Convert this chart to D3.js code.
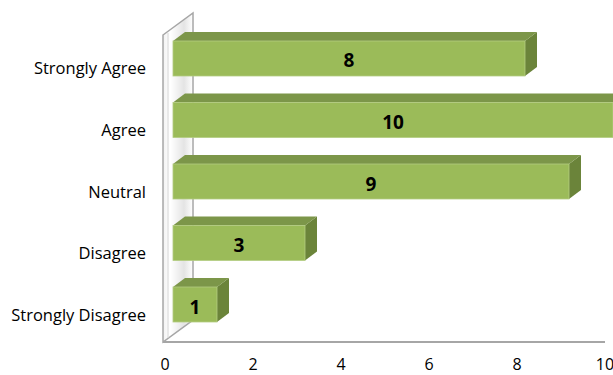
<!DOCTYPE html>
<html>
<head>
<meta charset="utf-8">
<script src="https://cdn.jsdelivr.net/npm/d3@7"></script>
<style>
  body { margin: 0; background: #fff; }
  svg { display: block; }
</style>
</head>
<body>
<div id="chart"></div>
<script>
// data
const categories = ['Strongly Agree', 'Agree', 'Neutral', 'Disagree', 'Strongly Disagree'];
const counts = [8, 10, 9, 3, 1];
const xTicks = [0, 2, 4, 6, 8, 10];

const width = 613, height = 375;
const svg = d3.select('#chart').append('svg')
    .attr('width', width)
    .attr('height', height);

// scales (front of the floor)
const x = d3.scaleLinear().domain([0, 10]).range([165, 605]);
const y = d3.scaleBand().domain(categories).range([41, 322]).paddingInner(0.431).paddingOuter(0);

const floorY = 342;
const wallDx = 30, wallDy = -22;
const barDx = 12, barDy = -9, barShift = 8;

// back wall gradient
const defs = svg.append('defs');
const grad = defs.append('linearGradient').attr('id', 'wallGrad')
    .attr('x1', '0%').attr('x2', '100%').attr('y1', '0%').attr('y2', '0%');
grad.append('stop').attr('offset', '0%').attr('stop-color', '#f2f2f2');
grad.append('stop').attr('offset', '25%').attr('stop-color', '#ffffff');
grad.append('stop').attr('offset', '70%').attr('stop-color', '#e4e4e4');
grad.append('stop').attr('offset', '100%').attr('stop-color', '#ffffff');

const wx = x(0) - 2, wTop = 35;
svg.append('polygon')
    .attr('points', [[wx, wTop], [wx + wallDx, wTop + wallDy], [wx + wallDx, floorY + wallDy], [wx, floorY]].join(' '))
    .attr('fill', 'url(#wallGrad)')
    .attr('stroke', '#a6a6a6')
    .attr('stroke-width', 1.5);
svg.append('line')
    .attr('x1', wx + 5).attr('x2', wx + 5)
    .attr('y1', wTop - 2).attr('y2', floorY - 4)
    .attr('stroke', '#d6d6d6').attr('stroke-width', 1);

// floor line
svg.append('line')
    .attr('x1', wx).attr('x2', x(10))
    .attr('y1', floorY).attr('y2', floorY)
    .attr('stroke', '#a6a6a6')
    .attr('stroke-width', 2);

// bars
const bars = svg.append('g').selectAll('g')
    .data(categories.map((c, i) => ({ cat: c, value: counts[i] })))
    .enter().append('g');

bars.append('polygon') // side
    .attr('points', d => {
        const x1 = x(d.value) + barShift, y0 = y(d.cat), h = y.bandwidth();
        return [[x1, y0], [x1 + barDx, y0 + barDy], [x1 + barDx, y0 + h + barDy], [x1, y0 + h]].join(' ');
    })
    .attr('fill', '#6b843a');

bars.append('polygon') // top
    .attr('points', d => {
        const x0 = x(0) + barShift, x1 = x(d.value) + barShift, y0 = y(d.cat);
        return [[x0, y0], [x0 + barDx, y0 + barDy], [x1 + barDx, y0 + barDy], [x1, y0]].join(' ');
    })
    .attr('fill', '#7c9649');

bars.append('rect') // front
    .attr('x', x(0) + barShift)
    .attr('y', d => y(d.cat))
    .attr('width', d => x(d.value) - x(0))
    .attr('height', y.bandwidth())
    .attr('fill', '#9bbb59')
    .attr('stroke', '#b3cc82')
    .attr('stroke-width', 0.8);

bars.append('text')
    .attr('x', d => x(0) + barShift + (x(d.value) - x(0)) / 2)
    .attr('y', d => y(d.cat) + y.bandwidth() / 2 + 9)
    .attr('text-anchor', 'middle')
    .attr('font-family', 'Open Sans, sans-serif')
    .attr('font-weight', 'bold')
    .attr('font-size', 19)
    .attr('fill', '#000')
    .text(d => d.value);

// category labels
svg.append('g').selectAll('text')
    .data(categories)
    .enter().append('text')
    .attr('x', 146)
    .attr('y', d => y(d) + y.bandwidth() / 2 + 16)
    .attr('text-anchor', 'end')
    .attr('font-family', 'Open Sans, sans-serif')
    .attr('font-size', 16.5)
    .attr('fill', '#000')
    .text(d => d);

// x tick labels
svg.append('g').selectAll('text')
    .data(xTicks)
    .enter().append('text')
    .attr('x', d => x(d))
    .attr('y', 370)
    .attr('text-anchor', 'middle')
    .attr('font-family', 'Open Sans, sans-serif')
    .attr('font-size', 16)
    .attr('fill', '#000')
    .text(d => d);
</script>
</body>
</html>
